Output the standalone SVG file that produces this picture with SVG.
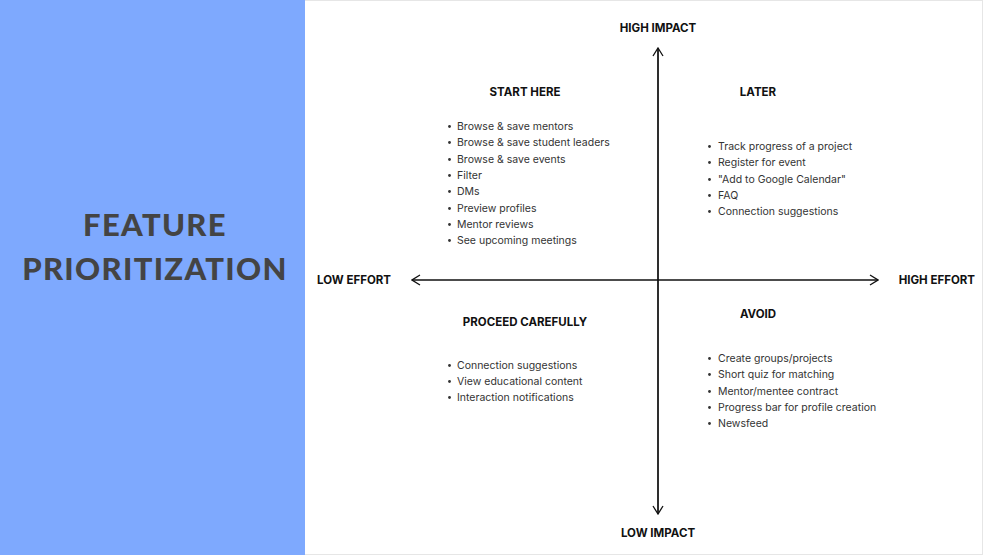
<svg xmlns="http://www.w3.org/2000/svg" width="983" height="555" viewBox="0 0 983 555">
<defs>
<style>
.title{font-family:Lato,"Open Sans",sans-serif;font-weight:900;font-size:31px;fill:#444;text-anchor:middle;letter-spacing:1.3px}
.ax{font-family:Inter,"Liberation Sans",sans-serif;font-weight:bold;font-size:11.5px;fill:#111}
.hd{font-family:Inter,"Liberation Sans",sans-serif;font-weight:bold;font-size:11.5px;fill:#111;text-anchor:middle}
.it{font-family:Inter,"Liberation Sans",sans-serif;font-size:10.5px;fill:#333}
.b{fill:#333}
.axis{stroke:#111;stroke-width:1.3;fill:none}
</style>
<marker id="arr" viewBox="0 0 10 12" refX="9" refY="6" markerWidth="10" markerHeight="12" markerUnits="userSpaceOnUse" orient="auto-start-reverse">
<path d="M1,1 L9,6 L1,11" fill="none" stroke="#111" stroke-width="1.3"/>
</marker>
</defs>
<rect x="0" y="0" width="983" height="555" fill="#fff"/>
<rect x="0.5" y="0.5" width="982" height="554" fill="none" stroke="#e6e6e6"/>
<g id="panel">
<rect x="0" y="0" width="305" height="555" fill="#7ea9fe"/>
<text class="title" x="155" y="236">FEATURE</text>
<text class="title" x="155" y="280">PRIORITIZATION</text>
</g>
<g id="connectors">
<line class="axis" x1="658" y1="514" x2="658" y2="48" marker-end="url(#arr)"/>
<line class="axis" x1="658" y1="48" x2="658" y2="514" marker-end="url(#arr)"/>
<line class="axis" x1="412" y1="280" x2="878" y2="280" marker-start="url(#arr)" marker-end="url(#arr)"/>
</g>
<g id="axis-labels">
<text class="ax" x="658" y="32" text-anchor="middle">HIGH IMPACT</text>
<text class="ax" x="658" y="537" text-anchor="middle">LOW IMPACT</text>
<text class="ax" x="317" y="284">LOW EFFORT</text>
<text class="ax" x="975" y="284" text-anchor="end">HIGH EFFORT</text>
</g>
<g id="start-here">
<text class="hd" x="525" y="96">START HERE</text>
<circle class="b" cx="449.5" cy="126.5" r="1.4"/><text class="it" x="457" y="130">Browse &amp; save mentors</text>
<circle class="b" cx="449.5" cy="142.5" r="1.4"/><text class="it" x="457" y="146">Browse &amp; save student leaders</text>
<circle class="b" cx="449.5" cy="159.5" r="1.4"/><text class="it" x="457" y="163">Browse &amp; save events</text>
<circle class="b" cx="449.5" cy="175.5" r="1.4"/><text class="it" x="457" y="179">Filter</text>
<circle class="b" cx="449.5" cy="191.5" r="1.4"/><text class="it" x="457" y="195">DMs</text>
<circle class="b" cx="449.5" cy="208.5" r="1.4"/><text class="it" x="457" y="212">Preview profiles</text>
<circle class="b" cx="449.5" cy="224.5" r="1.4"/><text class="it" x="457" y="228">Mentor reviews</text>
<circle class="b" cx="449.5" cy="240.5" r="1.4"/><text class="it" x="457" y="244">See upcoming meetings</text>
</g>
<g id="later">
<text class="hd" x="758" y="96">LATER</text>
<circle class="b" cx="709.5" cy="146.5" r="1.4"/><text class="it" x="718" y="150">Track progress of a project</text>
<circle class="b" cx="709.5" cy="162.5" r="1.4"/><text class="it" x="718" y="166">Register for event</text>
<circle class="b" cx="709.5" cy="179.5" r="1.4"/><text class="it" x="718" y="183">"Add to Google Calendar"</text>
<circle class="b" cx="709.5" cy="195.5" r="1.4"/><text class="it" x="718" y="199">FAQ</text>
<circle class="b" cx="709.5" cy="211.5" r="1.4"/><text class="it" x="718" y="215">Connection suggestions</text>
</g>
<g id="proceed-carefully">
<text class="hd" x="525" y="326">PROCEED CAREFULLY</text>
<circle class="b" cx="449.5" cy="365.5" r="1.4"/><text class="it" x="457" y="369">Connection suggestions</text>
<circle class="b" cx="449.5" cy="381.5" r="1.4"/><text class="it" x="457" y="385">View educational content</text>
<circle class="b" cx="449.5" cy="397.5" r="1.4"/><text class="it" x="457" y="401">Interaction notifications</text>
</g>
<g id="avoid">
<text class="hd" x="758" y="318">AVOID</text>
<circle class="b" cx="709.5" cy="358.5" r="1.4"/><text class="it" x="718" y="362">Create groups/projects</text>
<circle class="b" cx="709.5" cy="374.5" r="1.4"/><text class="it" x="718" y="378">Short quiz for matching</text>
<circle class="b" cx="709.5" cy="391.5" r="1.4"/><text class="it" x="718" y="395">Mentor/mentee contract</text>
<circle class="b" cx="709.5" cy="407.5" r="1.4"/><text class="it" x="718" y="411">Progress bar for profile creation</text>
<circle class="b" cx="709.5" cy="423.5" r="1.4"/><text class="it" x="718" y="427">Newsfeed</text>
</g>
</svg>
